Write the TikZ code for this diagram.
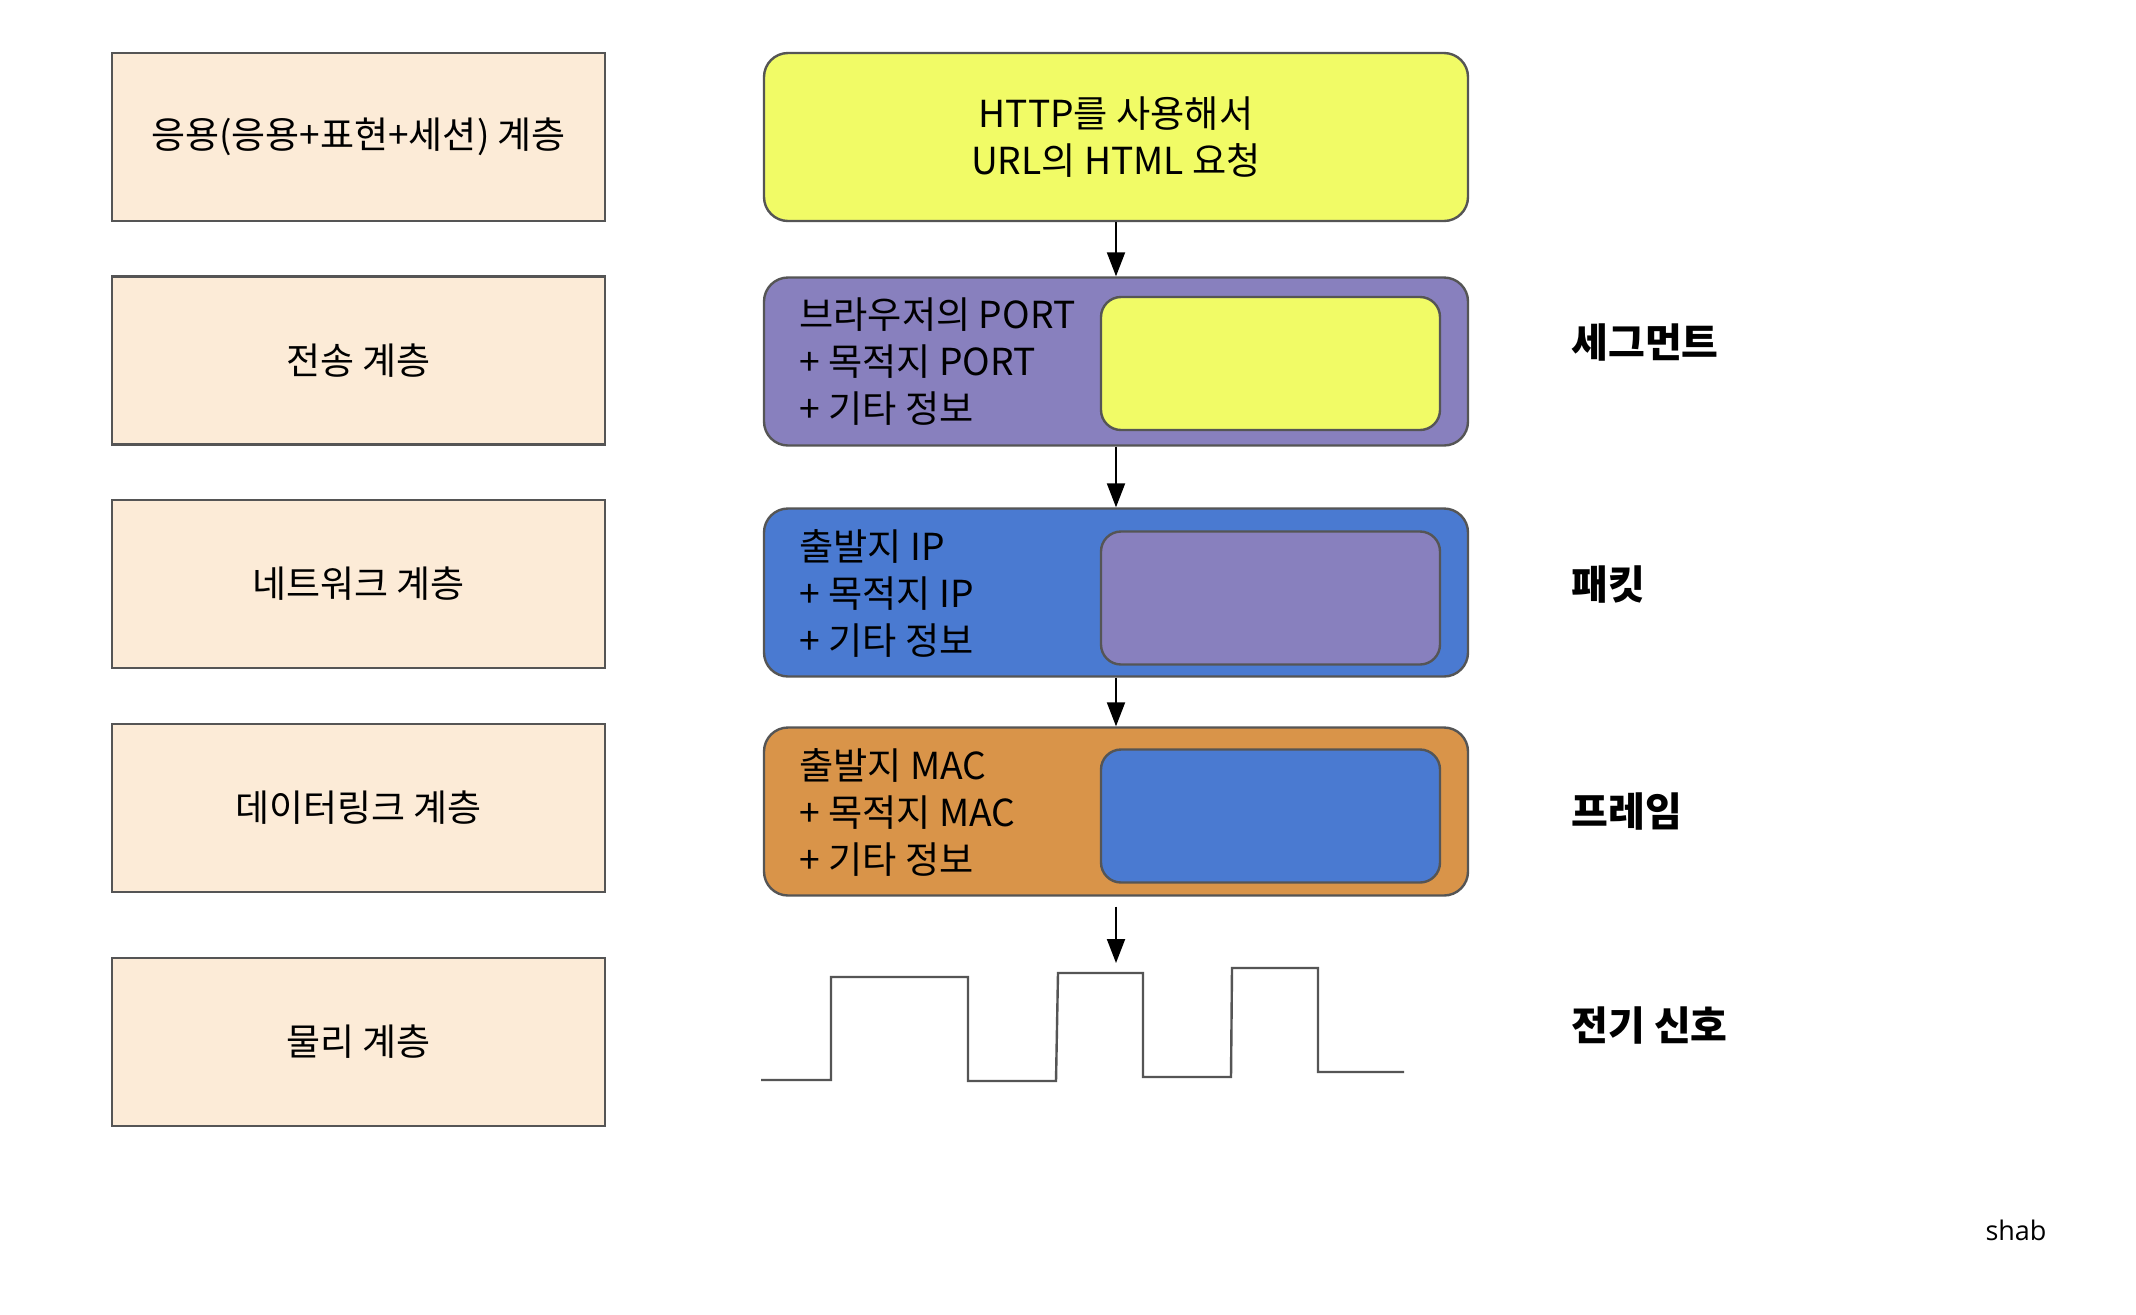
\documentclass[tikz,border=0pt]{standalone}
\usepackage{fontspec}
\setmainfont{Noto Sans CJK KR}
\newfontfamily\opensans{Open Sans}
\usetikzlibrary{arrows.meta}
\definecolor{layerfill}{HTML}{FCEBD7}
\definecolor{edge}{HTML}{555555}
\definecolor{yel}{HTML}{F1FB66}
\definecolor{pur}{HTML}{8880BE}
\definecolor{blu}{HTML}{4A7AD1}
\definecolor{ora}{HTML}{D99449}
\begin{document}
\begin{tikzpicture}[x=0.5pt,y=-0.5pt,
  layer/.style={draw=edge, fill=layerfill, line width=1.2pt, minimum width=246.5pt, minimum height=84pt, inner sep=0pt, font=\fontsize{18.5}{22}\selectfont},
  pdu/.style={draw=edge, line width=1.2pt, rounded corners=12pt, minimum width=352pt, minimum height=84pt, inner sep=0pt},
  payload/.style={draw=edge, line width=1.2pt, rounded corners=10pt, minimum width=169.5pt, minimum height=66.5pt, inner sep=0pt},
  hdr/.style={anchor=west, align=left, inner sep=0pt, font=\fontsize{18.6}{23.5}\selectfont},
  pduname/.style={anchor=west, inner sep=0pt, font=\bfseries\fontsize{20}{24}\selectfont},
  arr/.style={-{Triangle[length=12pt,width=9pt]}, line width=1pt, black},
  wave/.style={draw=edge, line width=1.2pt}]
\useasboundingbox (0,0) rectangle (2136,1314);
\fill[white] (0,0) rectangle (2136,1314);

% OSI layers
\node[layer] (l7) at (358.5,137) {응용(응용+표현+세션) 계층};
\node[layer] (l4) at (358.5,360.5) {전송 계층};
\node[layer] (l3) at (358.5,584) {네트워크 계층};
\node[layer] (l2) at (358.5,808) {데이터링크 계층};
\node[layer] (l1) at (358.5,1042) {물리 계층};

% PDUs
\node[pdu, fill=yel, align=center, font=\fontsize{18.6}{23.5}\selectfont] (data) at (1116,137) {HTTP를 사용해서\\URL의 HTML 요청};

\node[pdu, fill=pur] (seg) at (1116,361.5) {};
\node[payload, fill=yel] (segp) at (1270.5,363.5) {};
\node[hdr] (segh) at (799,362) {브라우저의 PORT\\+ 목적지 PORT\\+ 기타 정보};

\node[pdu, fill=blu] (pkt) at (1116,592.5) {};
\node[payload, fill=pur] (pktp) at (1270.5,598) {};
\node[hdr] (pkth) at (799,593.5) {출발지 IP\\+ 목적지 IP\\+ 기타 정보};

\node[pdu, fill=ora] (frm) at (1116,811.5) {};
\node[payload, fill=blu] (frmp) at (1270.5,816) {};
\node[hdr] (frmh) at (799,812.5) {출발지 MAC\\+ 목적지 MAC\\+ 기타 정보};

% signal
\draw[wave] (761,1080) -- (831,1080) -- (831,977) -- (968,977) -- (968,1081) -- (1056,1081) -- (1058,973) -- (1143,973) -- (1143,1077) -- (1231,1077) -- (1232,968) -- (1318,968) -- (1318,1072) -- (1404,1072);
\coordinate (sig) at (1116,963);

% arrows
\draw[arr] (data.south) -- (seg.north);
\draw[arr] (seg.south) -- (pkt.north);
\draw[arr] (pkt.south) -- (frm.north);
\draw[arr] ([yshift=-5pt]frm.south) -- (sig);

% PDU names
\node[pduname] (n4) at (1571,342) {세그먼트};
\node[pduname] (n3) at (1571,585) {패킷};
\node[pduname] (n2) at (1571,811) {프레임};
\node[pduname] (n1) at (1571,1025) {전기 신호};

\node[inner sep=0pt, font=\opensans\fontsize{13.5}{16}\selectfont] (author) at (2016,1230) {shab};
\end{tikzpicture}
\end{document}
